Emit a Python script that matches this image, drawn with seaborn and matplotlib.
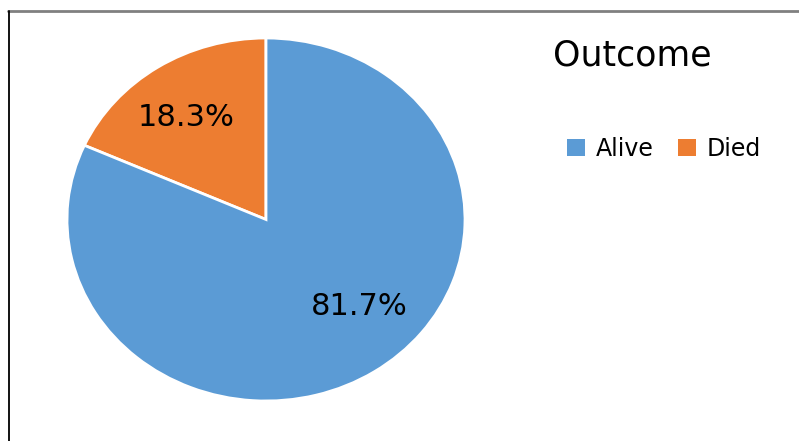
import matplotlib
matplotlib.use("Agg")
import matplotlib.pyplot as plt
from matplotlib.lines import Line2D
from matplotlib.patches import Patch
import seaborn as sns

# Outcome shares (percent)
categories = ["Alive", "Died"]
shares = [81.7, 18.3]
colors = ["#5B9BD5", "#ED7D31"]
legend_title = "Outcome"

sns.set_theme(style="white")
plt.rcParams["font.family"] = ["DejaVu Sans"]
plt.rcParams["text.color"] = "#000000"

fig = plt.figure(figsize=(7.99, 4.41), dpi=100)
fig.patch.set_facecolor("white")

# Pie area (stretched horizontally, as in the source sheet)
ax = fig.add_axes([67 / 799, 40 / 441, 398 / 799, 363 / 441])

# Draw Died first from 12 o'clock counter-clockwise, then Alive
order = [1, 0]
wedges, _ = ax.pie(
    [shares[i] for i in order],
    colors=[colors[i] for i in order],
    startangle=90,
    counterclock=True,
    wedgeprops=dict(edgecolor="white", linewidth=2),
)
ax.set_aspect("auto")
ax.set_xlim(-1, 1)
ax.set_ylim(-1, 1)
ax.axis("off")

# Percentage labels inside each slice
label_pos = {"Died": (-0.40, 0.56), "Alive": (0.47, -0.48)}
for i in order:
    x, y = label_pos[categories[i]]
    ax.text(x, y, f"{shares[i]:.1f}%", ha="center", va="center",
            fontsize=22, color="#000000")

# Legend title and entries
fig.text(632 / 799, 1 - 56 / 441, legend_title, ha="center", va="center",
         fontsize=25, color="#000000")
handles = [Patch(facecolor=colors[i], edgecolor="none") for i in range(len(categories))]
leg = fig.legend(handles, categories, loc="center", ncol=2,
                 bbox_to_anchor=(664 / 799, 1 - 149 / 441),
                 frameon=False, fontsize=17, handlelength=0.75, handleheight=0.75,
                 handletextpad=0.45, columnspacing=1.05, labelcolor="#000000")

# Sheet border lines
fig.add_artist(Line2D([8 / 799, 1], [1 - 11 / 441, 1 - 11 / 441],
                      transform=fig.transFigure, color="#808080", linewidth=2))
fig.add_artist(Line2D([8.5 / 799, 8.5 / 799], [0, 1 - 11 / 441],
                      transform=fig.transFigure, color="#000000", linewidth=1.3))

fig.savefig("out.png", dpi=100, facecolor="white")
